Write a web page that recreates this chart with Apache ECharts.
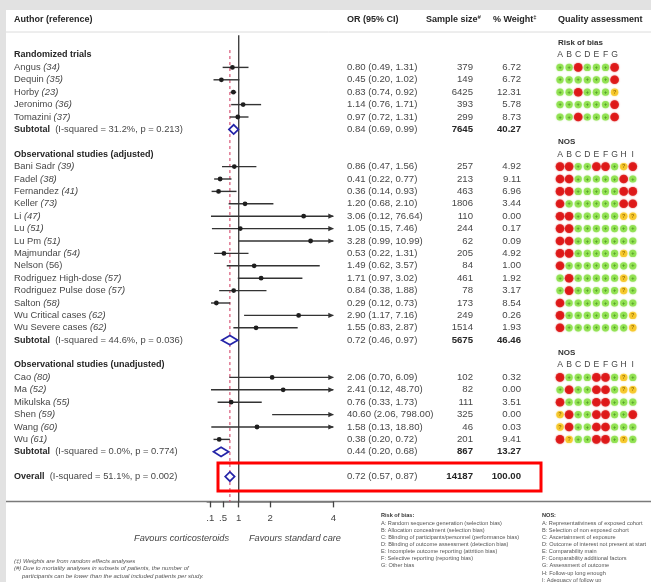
<!DOCTYPE html>
<html>
<head>
<meta charset="utf-8">
<script src="https://cdn.jsdelivr.net/npm/echarts@6/dist/echarts.min.js"></script>
<style>
  html, body { margin: 0; padding: 0; background: #fff; }
  #c { width: 651px; height: 582px; }
</style>
</head>
<body>
<div id="c"></div>
<script>
// ---- Study groups ----
const groupTitles = ['Randomized trials', 'Observational studies (adjusted)', 'Observational studies (unadjusted)'];
const groupSizes = [5, 14, 6];
const qualityTitles = ['Risk of bias', 'NOS', 'NOS'];
const qualityLetters = ['ABCDEFG', 'ABCDEFGHI', 'ABCDEFGHI'];

// ---- Individual studies ----
const studyNames = ['Angus', 'Dequin', 'Horby', 'Jeronimo', 'Tomazini',
  'Bani Sadr', 'Fadel', 'Fernandez', 'Keller', 'Li', 'Lu', 'Lu Pm', 'Majmundar', 'Nelson',
  'Rodriguez High-dose', 'Rodriguez Pulse dose', 'Salton', 'Wu Critical cases', 'Wu Severe cases',
  'Cao', 'Ma', 'Mikulska', 'Shen', 'Wang', 'Wu'];
const studyRefs = ['(34)', '(35)', '(23)', '(36)', '(37)',
  '(39)', '(38)', '(41)', '(73)', '(47)', '(51)', '(51)', '(54)', '(56)',
  '(57)', '(57)', '(58)', '(62)', '(62)',
  '(80)', '(52)', '(55)', '(59)', '(60)', '(61)'];
const refItalic = [1, 1, 1, 1, 1, 1, 1, 1, 1, 1, 1, 1, 1, 0, 1, 1, 1, 1, 1, 1, 1, 1, 1, 1, 1];
const oddsRatios = [0.80, 0.45, 0.83, 1.14, 0.97,
  0.86, 0.41, 0.36, 1.20, 3.06, 1.05, 3.28, 0.53, 1.49, 1.71, 0.84, 0.29, 2.90, 1.55,
  2.06, 2.41, 0.76, 40.60, 1.58, 0.38];
const ciLower = [0.49, 0.20, 0.74, 0.76, 0.72,
  0.47, 0.22, 0.14, 0.68, 0.12, 0.15, 0.99, 0.22, 0.62, 0.97, 0.38, 0.12, 1.17, 0.83,
  0.70, 0.12, 0.33, 2.06, 0.13, 0.20];
const ciUpper = [1.31, 1.02, 0.92, 1.71, 1.31,
  1.56, 0.77, 0.93, 2.10, 76.64, 7.46, 10.99, 1.31, 3.57, 3.02, 1.88, 0.73, 7.16, 2.87,
  6.09, 48.70, 1.73, 798.00, 18.80, 0.72];
const sampleSizes = [379, 149, 6425, 393, 299,
  257, 213, 463, 1806, 110, 244, 62, 205, 84, 461, 78, 173, 249, 1514,
  102, 82, 111, 325, 46, 201];
const weights = ['6.72', '6.72', '12.31', '5.78', '8.73',
  '4.92', '9.11', '6.96', '3.44', '0.00', '0.17', '0.09', '4.92', '1.00', '1.92', '3.17', '8.54', '0.26', '1.93',
  '0.32', '0.00', '3.51', '0.00', '0.03', '9.41'];
// g = low risk, r = high risk, y = unclear
const qualityRatings = ['ggrgggr', 'ggggggr', 'ggrgggy', 'ggggggr', 'ggrgggr',
  'rrggrrgyr', 'rrgggggrg', 'rrgggggrr', 'rggggggrr', 'rrgggggyy', 'rrggggggg', 'rrggggggg',
  'rrgggggyg', 'rgggggggg', 'grgggggyg', 'grgggggyg', 'rgggggggg', 'rgggggggy', 'rgggggggy',
  'rgggrrgyg', 'grggrrgyy', 'rgggrrggg', 'yrggrrggr', 'yrggrrggg', 'ryggrrgyg'];

// ---- Pooled estimates ----
const subtotalOR = [0.84, 0.72, 0.44];
const subtotalLower = [0.69, 0.46, 0.20];
const subtotalUpper = [0.99, 0.97, 0.68];
const subtotalN = [7645, 5675, 867];
const subtotalWeight = ['40.27', '46.46', '13.27'];
const subtotalI2 = ['31.2%', '44.6%', '0.0%'];
const subtotalP = ['0.213', '0.036', '0.774'];
const overallOR = 0.72, overallLower = 0.57, overallUpper = 0.87;
const overallN = 14187, overallWeight = '100.00', overallI2 = '51.1%', overallP = '0.002';

// ---- Axis ----
const axisTicks = [0.1, 0.5, 1, 2, 4];
const X_MAX = 4;

const FONT = '"Liberation Sans", Arial, Helvetica, sans-serif';
const TXT = '#484848';
const DARK = '#262626';

// build the row layout: group header, studies, subtotal, blank line
const rows = [];
let rowPos = 0, si = 0;
groupTitles.forEach((t, g) => {
  rows.push({ kind: 'group', row: rowPos++, g });
  for (let k = 0; k < groupSizes[g]; k++) rows.push({ kind: 'study', row: rowPos++, i: si++ });
  rows.push({ kind: 'subtotal', row: rowPos++, g });
  rowPos++;
});
rows.push({ kind: 'overall', row: rowPos });
const overallRow = rowPos;

const studyRows = rows.filter(d => d.kind === 'study');
const pooledRows = rows.filter(d => d.kind === 'subtotal' || d.kind === 'overall');
const groupRows = rows.filter(d => d.kind === 'group');

const fmt2 = v => v.toFixed(2);
const orText = (o, l, u) => `${fmt2(o)} (${fmt2(l)}, ${fmt2(u)})`;

// confidence intervals and point estimates
function renderCI(params, api) {
  const lo = api.value(0), hi = api.value(1), est = api.value(2), row = api.value(3);
  const a = api.coord([lo, row]);
  const b = api.coord([Math.min(hi, X_MAX), row]);
  const kids = [{
    type: 'line', shape: { x1: a[0], y1: a[1], x2: b[0], y2: b[1] },
    style: { stroke: '#333', lineWidth: 1.4 }
  }];
  if (hi > X_MAX) {
    kids.push({ type: 'polygon', shape: { points: [[b[0] + 0.5, b[1]], [b[0] - 5, b[1] - 2.6], [b[0] - 5, b[1] + 2.6]] }, style: { fill: '#333' } });
  }
  if (est <= X_MAX) {
    const c = api.coord([est, row]);
    kids.push({ type: 'circle', shape: { cx: c[0], cy: c[1], r: 2.4 }, style: { fill: '#1e1e1e' } });
  }
  return { type: 'group', children: kids };
}

// pooled diamonds
function renderDiamond(params, api) {
  const lo = api.coord([api.value(0), api.value(3)]);
  const hi = api.coord([api.value(1), api.value(3)]);
  const c = api.coord([api.value(2), api.value(3)]);
  const h = 4.6;
  return {
    type: 'polygon',
    shape: { points: [[lo[0], lo[1]], [c[0], c[1] - h], [hi[0], hi[1]], [c[0], c[1] + h]] },
    style: { fill: '#fff', stroke: '#2424a8', lineWidth: 1.7 }
  };
}

// reference lines: null effect and overall estimate
function renderRef(params, api) {
  const top = api.coord([api.value(0), api.value(1)]);
  const bot = api.coord([api.value(0), api.value(2)]);
  const dashed = api.value(3) === 1;
  return {
    type: 'line', shape: { x1: top[0], y1: top[1], x2: bot[0], y2: bot[1] },
    style: dashed ? { stroke: '#d0345c', lineWidth: 1, lineDash: [3, 3] } : { stroke: '#333', lineWidth: 1.3 }
  };
}

const nameRich = {
  n: { font: `9.4px ${FONT}`, fill: TXT },
  i: { font: `italic 9.4px ${FONT}`, fill: TXT },
  b: { font: `bold 9px ${FONT}`, fill: DARK }
};

function txt(x, y, text, opt) {
  return {
    type: 'text', x, y,
    style: Object.assign({ text, font: `9.6px ${FONT}`, fill: TXT, align: 'left', verticalAlign: 'middle' }, opt || {})
  };
}

// the text table: names, OR (95% CI), sample size, weight
function renderTable(params, api) {
  const d = rows[params.dataIndex];
  const y = api.coord([0, d.row])[1];
  const X_NAME = 14, X_OR = 347, X_N = 473, X_W = 521;
  const kids = [];
  if (d.kind === 'group') {
    kids.push(txt(X_NAME, y, groupTitles[d.g], { font: `bold 9px ${FONT}`, fill: DARK }));
  } else if (d.kind === 'study') {
    const i = d.i;
    kids.push(txt(X_NAME, y, `{n|${studyNames[i]} }{${refItalic[i] ? 'i' : 'n'}|${studyRefs[i]}}`, { rich: nameRich }));
    kids.push(txt(X_OR, y, orText(oddsRatios[i], ciLower[i], ciUpper[i])));
    kids.push(txt(X_N, y, String(sampleSizes[i]), { align: 'right' }));
    kids.push(txt(X_W, y, weights[i], { align: 'right' }));
  } else {
    const isAll = d.kind === 'overall';
    const label = isAll ? 'Overall' : 'Subtotal';
    const i2 = isAll ? overallI2 : subtotalI2[d.g];
    const p = isAll ? overallP : subtotalP[d.g];
    kids.push(txt(X_NAME, y, `{b|${label}}{n|  (I-squared = ${i2}, p = ${p})}`, { rich: nameRich }));
    kids.push(txt(X_OR, y, isAll ? orText(overallOR, overallLower, overallUpper)
      : orText(subtotalOR[d.g], subtotalLower[d.g], subtotalUpper[d.g])));
    kids.push(txt(X_N, y, String(isAll ? overallN : subtotalN[d.g]), { align: 'right', font: `bold 9.6px ${FONT}`, fill: DARK }));
    kids.push(txt(X_W, y, isAll ? overallWeight : subtotalWeight[d.g], { align: 'right', font: `bold 9.6px ${FONT}`, fill: DARK }));
  }
  return { type: 'group', children: kids };
}

// quality-assessment headings above each dot block
function renderQualityHead(params, api) {
  const g = api.value(0), row = api.value(1);
  const letters = qualityLetters[g];
  const kids = [];
  const first = api.coord([0, row - 1]);
  kids.push(txt(first[0] - 2, first[1], qualityTitles[g], { font: `bold 8px ${FONT}`, fill: '#333' }));
  for (let c = 0; c < letters.length; c++) {
    const p = api.coord([c, row]);
    kids.push(txt(p[0], p[1], letters[c], { align: 'center', font: `8.6px ${FONT}`, fill: '#444' }));
  }
  return { type: 'group', children: kids };
}

const ratingStyle = {
  g: { color: '#8be048', size: 7.2, mark: '+', markColor: '#3d7a1c' },
  r: { color: '#dc0f0f', size: 8.6, mark: '', markColor: '#800' },
  y: { color: '#f6c622', size: 7.4, mark: '?', markColor: '#8a6200' }
};
const dotData = [];
studyRows.forEach(d => {
  const q = qualityRatings[d.i];
  for (let c = 0; c < q.length; c++) {
    const st = ratingStyle[q[c]];
    dotData.push({
      value: [c, d.row],
      symbolSize: st.size,
      itemStyle: { color: st.color, shadowBlur: 1.5, shadowColor: st.color },
      label: { formatter: st.mark, color: st.markColor }
    });
  }
});

const option = {
  animation: false,
  backgroundColor: '#fff',
  grid: [
    { left: 207.2, width: 126.1, top: 30.2, height: 471.2 },
    { left: 560, width: 72.8, top: 30.2, height: 471.2 }
  ],
  xAxis: [
    {
      gridIndex: 0, type: 'value', min: 0, max: X_MAX, position: 'bottom',
      axisLine: { show: true, onZero: false, lineStyle: { color: '#7a7a7a', width: 1.5 } },
      axisTick: { show: true, customValues: axisTicks, length: 6, lineStyle: { color: '#444', width: 1.3 } },
      axisLabel: {
        show: true, customValues: axisTicks, margin: 12,
        fontFamily: FONT, fontSize: 9.6, color: '#444',
        formatter: v => (v < 1 ? String(v).replace(/^0/, '') : String(v))
      },
      splitLine: { show: false }
    },
    { gridIndex: 1, type: 'value', min: 0, max: 8, show: false }
  ],
  yAxis: [
    { gridIndex: 0, type: 'value', min: -2, max: 36, inverse: true, show: false },
    { gridIndex: 1, type: 'value', min: -2, max: 36, inverse: true, show: false }
  ],
  series: [
    {
      type: 'custom', name: 'reference', xAxisIndex: 0, yAxisIndex: 0, renderItem: renderRef,
      encode: { x: 0, y: [1, 2] }, z: 1,
      data: [[1, -1.6, 36, 0], [overallOR, -0.4, 36, 1]]
    },
    {
      type: 'custom', name: 'studies', xAxisIndex: 0, yAxisIndex: 0, renderItem: renderCI,
      encode: { x: [0, 1, 2], y: 3 }, z: 3,
      data: studyRows.map(d => [ciLower[d.i], ciUpper[d.i], oddsRatios[d.i], d.row])
    },
    {
      type: 'custom', name: 'pooled', xAxisIndex: 0, yAxisIndex: 0, renderItem: renderDiamond,
      encode: { x: [0, 1, 2], y: 3 }, z: 3,
      data: pooledRows.map(d => d.kind === 'overall'
        ? [overallLower, overallUpper, overallOR, d.row]
        : [subtotalLower[d.g], subtotalUpper[d.g], subtotalOR[d.g], d.row])
    },
    {
      type: 'custom', name: 'table', xAxisIndex: 0, yAxisIndex: 0, renderItem: renderTable,
      encode: { x: 0, y: 1 }, z: 4,
      data: rows.map(d => [0, d.row])
    },
    {
      type: 'custom', name: 'qualityHead', xAxisIndex: 1, yAxisIndex: 1, renderItem: renderQualityHead,
      encode: { x: 0, y: 1 }, z: 4,
      data: groupRows.map(d => [d.g, d.row])
    },
    {
      type: 'scatter', name: 'quality', xAxisIndex: 1, yAxisIndex: 1, z: 4,
      symbol: 'circle',
      label: { show: true, position: 'inside', fontSize: 5.5, fontFamily: FONT, fontWeight: 'bold' },
      data: dotData
    }
  ],
  graphic: []
};

const chart = echarts.init(document.getElementById('c'), null, { width: 651, height: 582 });
chart.setOption(option);

// page frame, header row, rules, notes
const overallY = chart.convertToPixel({ gridIndex: 0 }, [0, overallRow])[1];
const axisY = chart.convertToPixel({ gridIndex: 0 }, [0, 36])[1];
const note = { font: `italic 6px ${FONT}`, fill: '#555' };
const legendFont = `5.6px ${FONT}`;
const robLines = ['A: Random sequence generation (selection bias)', 'B: Allocation concealment (selection bias)',
  'C: Blinding of participants/personnel (performance bias)', 'D: Blinding of outcome assessment (detection bias)',
  'E: Incomplete outcome reporting (attrition bias)', 'F: Selective reporting (reporting bias)', 'G: Other bias'];
const nosLines = ['A: Representativiness of exposed cohort', 'B: Selection of non exposed cohort',
  'C: Ascertainment of exposure', 'D: Outcome of interest not present at start', 'E: Comparability main',
  'F: Comparability additional factors', 'G: Assessment of outcome', 'H: Follow-up long enough', 'I: Adequacy of follow up'];
const headRich = {
  h: { font: `bold 9px ${FONT}`, fill: DARK, lineHeight: 12 },
  s: { font: `bold 6px ${FONT}`, fill: DARK, verticalAlign: 'top', lineHeight: 12 }
};

chart.setOption({
  graphic: [
    { type: 'rect', shape: { x: 0, y: 0, width: 651, height: 10 }, style: { fill: '#e2e2e2' }, silent: true },
    { type: 'rect', shape: { x: 0, y: 0, width: 6, height: 582 }, style: { fill: '#e2e2e2' }, silent: true },
    { type: 'line', shape: { x1: 6, y1: 32, x2: 651, y2: 32 }, style: { stroke: '#dcdcdc', lineWidth: 1 } },
    { type: 'line', shape: { x1: 6, y1: axisY, x2: 651, y2: axisY }, style: { stroke: '#7a7a7a', lineWidth: 1.5 } },
    { type: 'text', x: 14, y: 20, style: { text: 'Author (reference)', font: `bold 9px ${FONT}`, fill: DARK, verticalAlign: 'middle' } },
    { type: 'text', x: 347, y: 20, style: { text: 'OR (95% CI)', font: `bold 9px ${FONT}`, fill: DARK, verticalAlign: 'middle' } },
    { type: 'text', x: 426, y: 20, style: { text: '{h|Sample size}{s|#}', rich: headRich, verticalAlign: 'middle' } },
    { type: 'text', x: 493, y: 20, style: { text: '{h|% Weight}{s|‡}', rich: headRich, verticalAlign: 'middle' } },
    { type: 'text', x: 558, y: 20, style: { text: 'Quality assessment', font: `bold 9px ${FONT}`, fill: DARK, verticalAlign: 'middle' } },
    {
      type: 'rect', shape: { x: 218, y: overallY - 13.5, width: 323, height: 28 },
      style: { fill: 'none', stroke: '#ff0000', lineWidth: 3 }, z: 10
    },
    { type: 'text', x: 229, y: 538, style: { text: 'Favours corticosteroids', font: `italic 9.2px ${FONT}`, fill: '#444', align: 'right', verticalAlign: 'middle' } },
    { type: 'text', x: 249, y: 538, style: { text: 'Favours standard care', font: `italic 9.2px ${FONT}`, fill: '#444', align: 'left', verticalAlign: 'middle' } },
    { type: 'text', x: 14, y: 561, style: Object.assign({ text: '(‡) Weights are from random effects analyses', verticalAlign: 'middle' }, note) },
    { type: 'text', x: 14, y: 568.5, style: Object.assign({ text: '(#) Due to mortality analyses in subsets of patients, the number of', verticalAlign: 'middle' }, note) },
    { type: 'text', x: 22, y: 576, style: Object.assign({ text: 'participants can be lower than the actual included patients per study.', verticalAlign: 'middle' }, note) },
    { type: 'text', x: 381, y: 515, style: { text: 'Risk of bias:', font: `bold 5.6px ${FONT}`, fill: '#333', verticalAlign: 'middle' } },
    { type: 'text', x: 381, y: 519.8, style: { text: robLines.join('\n'), font: legendFont, fill: '#555', lineHeight: 7.1 } },
    { type: 'text', x: 542, y: 515, style: { text: 'NOS:', font: `bold 5.6px ${FONT}`, fill: '#333', verticalAlign: 'middle' } },
    { type: 'text', x: 542, y: 519.8, style: { text: nosLines.join('\n'), font: legendFont, fill: '#555', lineHeight: 7.1 } }
  ]
});
</script>
</body>
</html>
